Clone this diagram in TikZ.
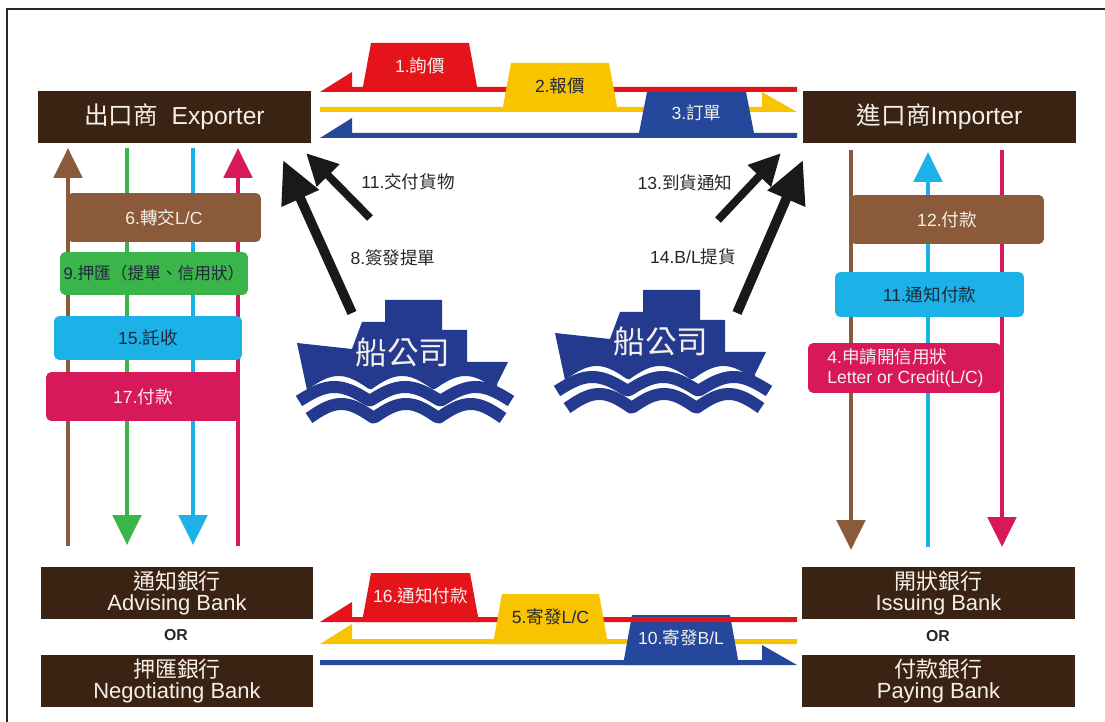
\documentclass[tikz,border=0pt]{standalone}
\usepackage{fontspec}
\usetikzlibrary{arrows.meta}
\setmainfont{Liberation Sans}
\newfontfamily\zhfont{Noto Sans CJK TC}
\newcommand{\zh}[1]{{\zhfont #1}}
\definecolor{boxbrown}{HTML}{3B2314}
\definecolor{lanebrown}{HTML}{8B5A3A}
\definecolor{lanegreen}{HTML}{3AB54A}
\definecolor{lanecyan}{HTML}{1CB1E7}
\definecolor{lanepink}{HTML}{D7195B}
\definecolor{tabred}{HTML}{E5141B}
\definecolor{tabyellow}{HTML}{F8C400}
\definecolor{tabblue}{HTML}{25489C}
\definecolor{shipblue}{HTML}{243A8F}
\definecolor{inkdark}{HTML}{22283A}
\definecolor{textlight}{HTML}{F6F0EA}
\newcommand{\barleft}[3]{\fill[#1] (320,#3) -- (352,#2-15) -- (352,#2) -- (797,#2) -- (797,#3) -- cycle;}
\newcommand{\barright}[3]{\fill[#1] (320,#2) -- (762,#2) -- (762,#2-15) -- (797,#3) -- (320,#3) -- cycle;}
\newcommand{\flowtab}[8]{\fill[#1] (#2,#5) -- (#2+9,#4) -- (#3-9,#4) -- (#3,#5) -- cycle;
	\node[tabtext, text=#6] (#7) at ({(#2+#3)/2},{(#4+#5)/2-2}) {#8};}
\tikzset{
	party/.style={fill=boxbrown, text=textlight, inner sep=0pt, minimum width=5.46cm, minimum height=1.04cm, font=\fontsize{14}{16}\selectfont},
	bank/.style={party, align=center, font=\fontsize{12.5}{12}\selectfont},
	ortext/.style={inner sep=0pt, text=black!85, font=\bfseries\fontsize{9}{10}\selectfont},
	flowtag/.style={rounded corners=3pt, inner sep=0pt, minimum height=0.98cm, font=\fontsize{10}{11}\selectfont},
	tabtext/.style={inner sep=0pt, font=\fontsize{10}{11}\selectfont},
	steptext/.style={inner sep=0pt, text=black!85, font=\fontsize{10}{11}\selectfont},
	lane/.style={line width=2.6pt, -{Triangle[length=17pt, width=16pt]}},
	cargo/.style={line width=5.5pt, draw=black!90, -{Triangle[length=24pt, width=22pt]}},
	notice/.style={line width=4.5pt, draw=black!90, -{Triangle[length=18pt, width=17pt]}},
	pics/ship/.style={code={
		\fill[shipblue] (-106,-9) -- (-51,-3) -- (-41,-30) -- (-18,-30) -- (-18,-52) -- (39,-52) -- (39,-22) -- (64,-22) -- (64,10) -- (105,10) -- (94,32)
			-- plot[domain=94:-96, samples=60] (\x,{38-14*abs(sin((\x+96)*2.8423))}) -- cycle;
		\draw[shipblue, line width=0.24cm, line join=round] plot[domain=-104:108, samples=80] (\x,{49-14*abs(sin((\x+104)*2.5472))});
		\draw[shipblue, line width=0.24cm, line join=round] plot[domain=-94:100, samples=80] (\x,{66-14*abs(sin((\x+94)*2.7834))});
		\node[text=textlight, inner sep=0pt, font=\zhfont\fontsize{18}{20}\selectfont] (-name) at (0,0) {船公司};
	}}
}

\begin{document}
\begin{tikzpicture}[x=0.02cm, y=-0.02cm]
	\useasboundingbox (0,0) rectangle (1105,722);
	\draw[line width=1.4pt, black!85] (7,722) -- (7,9) -- (1105,9);
	\node[party] (exporter) at (174.5,117) {\zh{出口商}\hspace{0.55em}Exporter};
	\node[party] (importer) at (939.5,117) {\zh{進口商}Importer};
	\node[bank] (advising) at (177,593) {\zh{通知銀行}\\Advising Bank};
	\node[ortext] (or-left) at (176,635) {OR};
	\node[bank] (negotiating) at (177,681) {\zh{押匯銀行}\\Negotiating Bank};
	\node[bank] (issuing) at (938.5,593) {\zh{開狀銀行}\\Issuing Bank};
	\node[ortext] (or-right) at (938,636) {OR};
	\node[bank] (paying) at (938.5,681) {\zh{付款銀行}\\Paying Bank};
	\foreach \n/\x/\t/\b in {lb/68/148/546, lg/127/148/545, lc/193/148/545, lp/238/148/546, rb/851/150/550, rc/928/152/547, rp/1002/150/547}
		{\coordinate (\n-top) at (\x,\t); \coordinate (\n-bot) at (\x,\b);}
	\draw[lane, lanebrown] (lb-bot) -- (lb-top);
	\draw[lane, lanegreen] (lg-top) -- (lg-bot);
	\draw[lane, lanecyan] (lc-top) -- (lc-bot);
	\draw[lane, lanepink] (lp-bot) -- (lp-top);
	\draw[lane, lanebrown] (rb-top) -- (rb-bot);
	\draw[lane, lanecyan] (rc-bot) -- (rc-top);
	\draw[lane, lanepink] (rp-top) -- (rp-bot);
	\node[flowtag, fill=lanebrown, text=textlight, minimum width=3.88cm] (transfer) at (164,217.5) {6.\zh{轉交}L/C};
	\node[flowtag, fill=lanegreen, text=inkdark, minimum width=3.76cm, minimum height=0.86cm, font=\fontsize{9.5}{11}\selectfont] (negotiate) at (154,273.5) {9.\zh{押匯（提單、信用狀）}};
	\node[flowtag, fill=lanecyan, text=inkdark, minimum width=3.76cm, minimum height=0.88cm] (collect) at (148,338) {15.\zh{託收}};
	\node[flowtag, fill=lanepink, text=textlight, minimum width=3.88cm] (pay-exp) at (143,396.5) {17.\zh{付款}};
	\node[flowtag, fill=lanebrown, text=textlight, minimum width=3.88cm] (pay-imp) at (947,219.5) {12.\zh{付款}};
	\node[flowtag, fill=lanecyan, text=inkdark, minimum width=3.78cm, minimum height=0.9cm] (notify) at (929.5,294.5) {11.\zh{通知付款}};
	\node[flowtag, fill=lanepink, minimum width=3.86cm, minimum height=1cm] (apply) at (904.5,368) {};
	\node[anchor=west, align=left, inner sep=0pt, text=textlight, font=\fontsize{10}{11}\selectfont] (apply-text) at (827,368) {4.\zh{申請開信用狀}\\Letter or Credit(L/C)};
	\barright{tabyellow}{107}{112}
	\barleft{tabblue}{133}{138}
	\flowtab{tabblue}{638}{755}{92}{138}{textlight}{order}{3.\zh{訂單}}
	\barleft{tabred}{87}{92}
	\flowtab{tabred}{362}{478}{43}{92}{textlight}{inquiry}{1.\zh{詢價}}
	\flowtab{tabyellow}{502}{618}{63}{112}{inkdark}{quote}{2.\zh{報價}}
	\barleft{tabyellow}{639}{644}
	\barright{tabblue}{660}{665}
	\flowtab{tabblue}{623}{739}{615}{665}{textlight}{send-bl}{10.\zh{寄發}B/L}
	\barleft{tabred}{617}{622}
	\flowtab{tabred}{362}{479}{573}{622}{textlight}{pay-notice}{16.\zh{通知付款}}
	\flowtab{tabyellow}{493}{608}{594}{644}{inkdark}{send-lc}{5.\zh{寄發}L/C}
	\pic (ship-left) at (403,352) {ship};
	\pic (ship-right) at (661,342) {ship};
	\coordinate (issue-from) at (352,313);
	\coordinate (issue-to) at (283,160);
	\coordinate (deliver-from) at (370,218);
	\coordinate (deliver-to) at (306,153);
	\coordinate (arrive-from) at (718,220);
	\coordinate (arrive-to) at (781,153);
	\coordinate (pickup-from) at (737,313);
	\coordinate (pickup-to) at (803,160);
	\draw[cargo] (issue-from) -- (issue-to);
	\draw[notice] (deliver-from) -- (deliver-to);
	\draw[notice] (arrive-from) -- (arrive-to);
	\draw[cargo] (pickup-from) -- (pickup-to);
	\node[steptext] (deliver) at (408,182) {11.\zh{交付貨物}};
	\node[steptext] (issue) at (393,258) {8.\zh{簽發提單}};
	\node[steptext] (arrive) at (685,183) {13.\zh{到貨通知}};
	\node[steptext] (pickup) at (693,257) {14.B/L\zh{提貨}};
\end{tikzpicture}
\end{document}
